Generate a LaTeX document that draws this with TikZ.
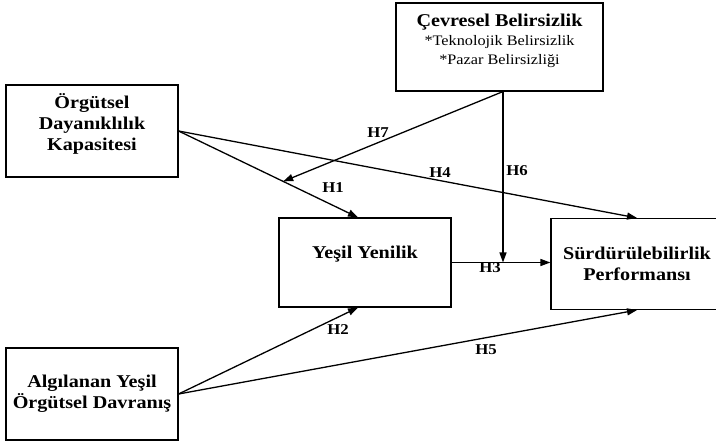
\documentclass[tikz,border=0pt]{standalone}
\usepackage{fontspec}
\setmainfont{Liberation Serif}[FakeStretch=1.12]
\usetikzlibrary{arrows.meta,calc}
\newcommand{\soustitre}[1]{{\mdseries\fontsize{14.5}{17}\selectfont #1}}
\def\largeur{172}
\def\hauteur{91}

\begin{document}
\begin{tikzpicture}[x=1pt, y=-1pt,
	bloc/.style={draw, line width=1.1pt, minimum width=\largeur pt, minimum height=\hauteur pt, inner sep=0pt, align=center, font=\fontsize{18}{21}\selectfont\bfseries},
	fleche/.style={-{Triangle[length=10pt, width=7pt]}, line width=1.3pt},
	hyp/.style={font=\fontsize{15}{15}\selectfont\bfseries}]
	\useasboundingbox (0,0) rectangle (716,441);
	%\draw[step=50, black!20] (0,0) grid (716,441);
	\node[bloc, minimum width=207pt, minimum height=88pt] (cev) at (499.5,47) {\c{C}evresel Belirsizlik\\[-2pt]\soustitre{*Teknolojik Belirsizlik}\\[-2pt]\soustitre{*Pazar Belirsizliği}\rule[-16pt]{0pt}{0pt}};
	\node[bloc, minimum height=92pt] (org) at (92,131) {Örgütsel\\Dayanıklılık\\Kapasitesi\rule[-17pt]{0pt}{0pt}};
	\node[bloc, minimum height=89pt] (yes) at (365,262.5) {Yeşil Yenilik\rule[-20pt]{0pt}{0pt}};
	\node[bloc] (sur) at (637,264) {Sürdürülebilirlik\\Performansı};
	\node[bloc, minimum height=92pt] (alg) at (92,394) {Algılanan Yeşil\\Örgütsel Davranış};
	\coordinate (h7bout) at ($(org.east)!0.583!([xshift=-7pt]yes.north)$);
	\coordinate (cevbas) at ([xshift=3.5pt]cev.south);
	\draw[fleche] (org.east) -- ([xshift=-7pt]yes.north);
	\draw[fleche] (org.east) -- (sur.north);
	\draw[fleche] (cevbas) -- (h7bout);
	\draw[fleche] (cevbas) -- (cevbas |- yes.east);
	\draw[fleche] (yes.east) -- (yes.east -| sur.west);
	\draw[fleche] (alg.east) -- ([xshift=-7pt]yes.south);
	\draw[fleche] (alg.east) -- (sur.south);
	\node[hyp] (h1) at (333,188) {H1};
	\node[hyp] (h2) at (338,330) {H2};
	\node[hyp] (h3) at (490,268) {H3};
	\node[hyp] (h4) at (440,173) {H4};
	\node[hyp] (h5) at (486,350) {H5};
	\node[hyp] (h6) at (517,171) {H6};
	\node[hyp] (h7) at (378,133) {H7};
\end{tikzpicture}
\end{document}
